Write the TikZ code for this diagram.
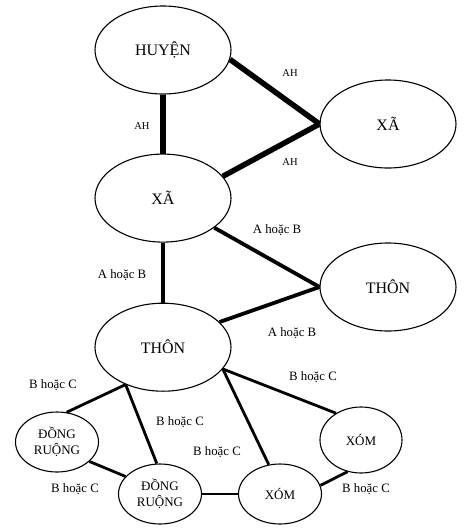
\documentclass[tikz,border=0pt]{standalone}
\usepackage{fontspec}
\setmainfont{Liberation Serif}
\usetikzlibrary{positioning, shapes.geometric}

\begin{document}
\begin{tikzpicture}[x=1pt, y=1pt,
    lon/.style={ellipse, draw, line width=1.1pt, minimum width=136pt,
      minimum height=88pt, inner sep=0pt, font=\fontsize{16}{18}\selectfont},
    nho/.style={ellipse, draw, line width=1.1pt, minimum width=83pt,
      minimum height=60pt, inner sep=0pt, align=center,
      font=\fontsize{13}{16}\selectfont},
    ah/.style={line width=5.5pt},
    ab/.style={line width=3.8pt},
    bc/.style={line width=2.8pt},
    nhan/.style={font=\fontsize{12.8}{14}\selectfont},
    nhanah/.style={font=\fontsize{10.5}{12}\selectfont}]
    \useasboundingbox (0,0) rectangle (469,-528);
    \node[lon] at (163,-50) (huyen) {HUYỆN};
    \node[lon, below=59pt of huyen] (xa) {XÃ};
    \node[lon, below=60pt of xa] (thon) {THÔN};
    \node[lon] at (388,-124) (xaB) {XÃ};
    \node[lon] at (388,-287) (thonB) {THÔN};
    \node[nho] at (57,-442) (dong1) {ĐỒNG\\RUỘNG};
    \node[nho] at (160,-494) (dong2) {ĐỒNG\\RUỘNG};
    \node[nho] at (280,-494) (xom1) {XÓM};
    \node[nho, minimum width=82pt, minimum height=66pt] at (361,-440) (xom2) {XÓM};
    \draw[ah] (huyen) -- (xa); \draw[ah] (huyen.-8) -- (xaB.west);
    \draw[ah] (xa.20) -- (xaB.west);
    \draw[ab] (xa) -- (thon); \draw[ab] (xa.-30) -- (thonB.west);
    \draw[ab] (thon.24) -- (thonB.west);
    \draw[bc] (thon.-135) -- (dong1.72); \draw[bc] (thon.-135) -- (dong2.96);
    \draw[bc] (thon.-20) -- (xom1.111); \draw[bc] (thon.-20) -- (xom2.133);
    \draw[bc] (dong1.-31) -- (dong2.153); \draw[bc] (dong2) -- (xom1);
    \draw[bc] (xom1.12) -- (xom2.-113);
    % nhãn
    \node[nhanah] at (142,-126) (l1) {AH};
    \node[nhanah] at (290,-73) (l2) {AH};
    \node[nhanah] at (290,-162) (l3) {AH};
    \node[nhan] at (277,-230) (l4) {A hoặc B};
    \node[nhan] at (122,-275) (l5) {A hoặc B};
    \node[nhan] at (292,-333) (l6) {A hoặc B};
    \node[nhan] at (53,-385) (l7) {B hoặc C};
    \node[nhan] at (313,-377) (l8) {B hoặc C};
    \node[nhan] at (180,-422) (l9) {B hoặc C};
    \node[nhan] at (217,-452) (l10) {B hoặc C};
    \node[nhan] at (75,-489) (l11) {B hoặc C};
    \node[nhan] at (366,-489) (l12) {B hoặc C};
\end{tikzpicture}
\end{document}
